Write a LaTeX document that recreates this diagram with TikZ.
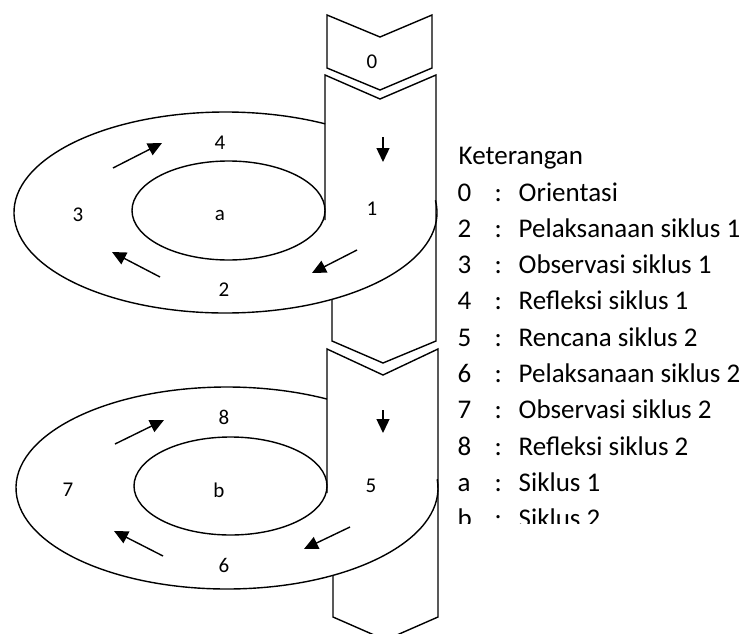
\documentclass[tikz,border=0pt]{standalone}
\usepackage{fontspec}
\setmainfont{Carlito}
\usetikzlibrary{arrows.meta}

\begin{document}
\begin{tikzpicture}[x=1pt,y=-1pt,line width=1.4pt,
	flow/.style={-{Triangle[length=14pt,width=13pt]}},
	lbl/.style={font=\fontsize{21}{24}\selectfont,inner sep=0pt},
	key/.style={font=\fontsize{27}{31}\selectfont,anchor=base west,inner sep=0pt}]
	\useasboundingbox (0,0) rectangle (747,634);
	\clip (0,0) rectangle (747,634);
	% step 0
	\draw (327,15) -- (380,37) -- (432,15) -- (432,68) -- (380,90) -- (327,68) -- cycle;
	% cycle a
	\draw ([shift={(-7:211.5 and 100.5)}]225.5,212.5) arc[start angle=-7,end angle=298.1,x radius=211.5,y radius=100.5];
	\draw (228.5,210.5) ellipse [x radius=96.5,y radius=49.5];
	\draw (325,220) -- (325,75) -- (380,99) -- (436,75) -- (436,341) -- (383,363) -- (332,341) -- (332,300);
	% cycle b
	\draw ([shift={(-5:211 and 101)}]227,488) arc[start angle=-5,end angle=298.3,x radius=211,y radius=101];
	\draw (230.5,486) ellipse [x radius=96.5,y radius=49];
	\draw (327,493) -- (327,349) -- (383,375) -- (438,349) -- (438,617) -- (385.5,640) -- (333,617) -- (333,576);
	
	\foreach \xa/\ya/\xb/\yb in 
	{383/137/383/162,113/168/162/143,160/277/112/252,357/250/312/273,
	 383/410/383/433,115/444/164/420,163/556/114/531,350/527/304/549}{% arrows
		\draw[flow] (\xa,\ya) -- (\xb,\yb);
	}
	
	\node[lbl] (n0) at (372,62) {0};
	\node[lbl] (n1) at (372,209) {1};
	\node[lbl] (n2) at (224,290) {2};
	\node[lbl] (n3) at (78,215) {3};
	\node[lbl] (n4) at (220,143) {4};
	\node[lbl] (na) at (220,215) {a};
	\node[lbl] (n5) at (371,486) {5};
	\node[lbl] (n6) at (224,565) {6};
	\node[lbl] (n7) at (68,490) {7};
	\node[lbl] (n8) at (224,417) {8};
	\node[lbl] (nb) at (219,490) {b};
	
	\begin{scope}
		\clip (440,120) rectangle (747,523);
		\node[key] (keyhead) at (458,164) {Keterangan};
		\foreach \num/\txt [count=\i from 0] in 
		{0/Orientasi,2/Pelaksanaan siklus 1,3/Observasi siklus 1,4/Refleksi siklus 1,5/Rencana siklus 2,
		 6/Pelaksanaan siklus 2,7/Observasi siklus 2,8/Refleksi siklus 2,a/Siklus 1,b/Siklus 2}{% legend rows
			\node[key] (key\i) at (457,{201+36.3*\i}) {\num};
			\node[key] at (494,{201+36.3*\i}) {:};
			\node[key] at (518,{201+36.3*\i}) {\txt};
		}
	\end{scope}
\end{tikzpicture}
\end{document}
